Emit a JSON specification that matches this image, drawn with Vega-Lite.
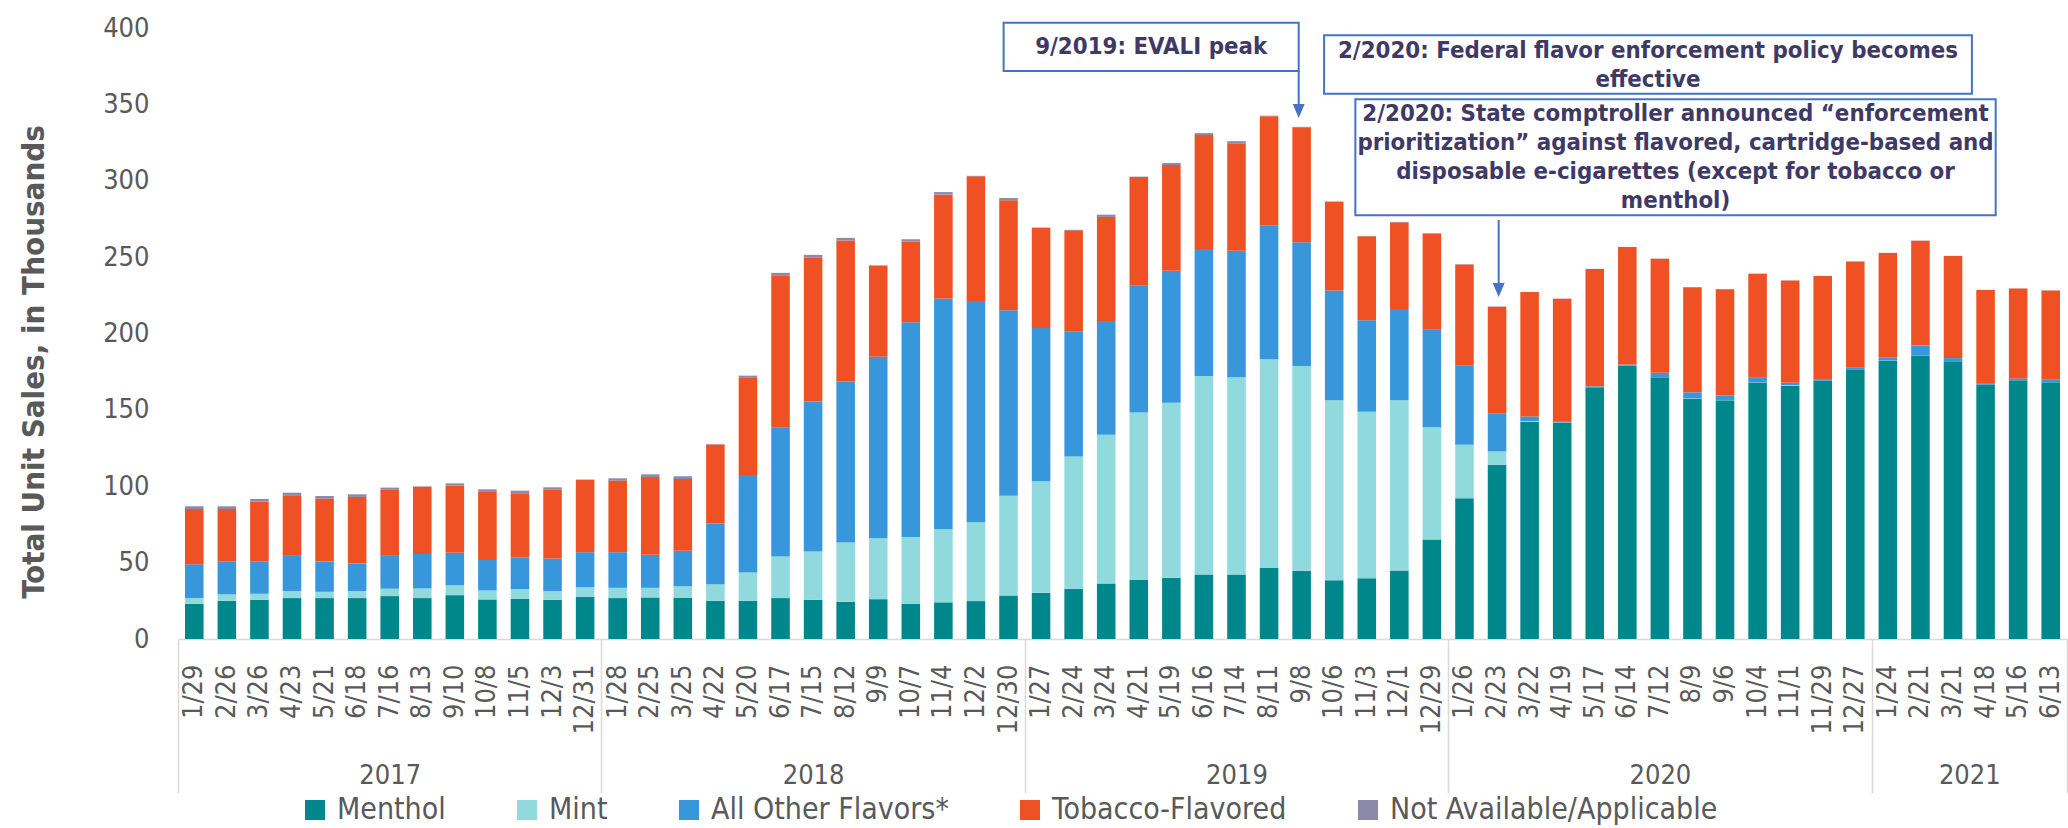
{
  "$schema": "https://vega.github.io/schema/vega-lite/v6.json",
  "width": 1889,
  "height": 611,
  "autosize": {"type": "none"},
  "padding": {"left": 178, "top": 28, "right": 1, "bottom": 189},
  "background": "white",
  "config": {
    "view": {"stroke": null},
    "font": "DejaVu Sans Condensed",
    "axis": {"grid": false, "labelFont": "DejaVu Sans Condensed", "titleFont": "DejaVu Sans Condensed"},
    "legend": {"labelFont": "DejaVu Sans Condensed"}
  },
  "layer": [
    {
      "data": {
        "values": [
          {"week": "1/29", "menthol": 23.1, "mint": 3.7, "other": 22.2, "tobacco": 36.1, "na": 1.8},
          {"week": "2/26", "menthol": 25.0, "mint": 4.2, "other": 21.3, "tobacco": 34.6, "na": 1.8},
          {"week": "3/26", "menthol": 25.7, "mint": 3.9, "other": 20.9, "tobacco": 39.4, "na": 1.8},
          {"week": "4/23", "menthol": 26.8, "mint": 4.6, "other": 23.5, "tobacco": 39.2, "na": 1.7},
          {"week": "5/21", "menthol": 26.8, "mint": 4.1, "other": 19.8, "tobacco": 41.2, "na": 1.7},
          {"week": "6/18", "menthol": 26.8, "mint": 4.6, "other": 18.0, "tobacco": 43.6, "na": 1.7},
          {"week": "7/16", "menthol": 28.1, "mint": 4.8, "other": 22.0, "tobacco": 42.7, "na": 1.5},
          {"week": "8/13", "menthol": 26.8, "mint": 6.3, "other": 22.6, "tobacco": 44.0, "na": 0.3},
          {"week": "9/10", "menthol": 28.7, "mint": 6.4, "other": 21.3, "tobacco": 44.0, "na": 1.5},
          {"week": "10/8", "menthol": 25.9, "mint": 5.9, "other": 20.0, "tobacco": 44.5, "na": 1.7},
          {"week": "11/5", "menthol": 26.3, "mint": 6.4, "other": 20.7, "tobacco": 42.0, "na": 1.7},
          {"week": "12/3", "menthol": 25.7, "mint": 5.7, "other": 21.3, "tobacco": 45.1, "na": 1.5},
          {"week": "12/31", "menthol": 27.6, "mint": 6.4, "other": 22.8, "tobacco": 47.3, "na": 0.3},
          {"week": "1/28", "menthol": 26.8, "mint": 6.7, "other": 23.3, "tobacco": 46.9, "na": 1.5},
          {"week": "2/25", "menthol": 27.2, "mint": 6.3, "other": 21.6, "tobacco": 51.0, "na": 1.7},
          {"week": "3/25", "menthol": 26.8, "mint": 7.8, "other": 23.1, "tobacco": 47.1, "na": 1.7},
          {"week": "4/22", "menthol": 25.0, "mint": 10.9, "other": 39.7, "tobacco": 51.8, "na": 0.3},
          {"week": "5/20", "menthol": 25.0, "mint": 18.5, "other": 63.8, "tobacco": 63.6, "na": 1.5},
          {"week": "6/17", "menthol": 26.8, "mint": 27.2, "other": 84.7, "tobacco": 99.5, "na": 1.5},
          {"week": "7/15", "menthol": 25.7, "mint": 31.6, "other": 98.2, "tobacco": 94.5, "na": 1.5},
          {"week": "8/12", "menthol": 24.4, "mint": 38.7, "other": 105.4, "tobacco": 92.4, "na": 1.7},
          {"week": "9/9", "menthol": 26.1, "mint": 39.9, "other": 118.8, "tobacco": 59.5, "na": 0.3},
          {"week": "10/7", "menthol": 23.1, "mint": 43.7, "other": 140.5, "tobacco": 52.9, "na": 1.5},
          {"week": "11/4", "menthol": 24.0, "mint": 47.8, "other": 151.1, "tobacco": 68.0, "na": 1.7},
          {"week": "12/2", "menthol": 24.8, "mint": 51.6, "other": 144.8, "tobacco": 81.7, "na": 0.3},
          {"week": "12/30", "menthol": 28.5, "mint": 65.3, "other": 121.5, "tobacco": 71.9, "na": 1.5},
          {"week": "1/27", "menthol": 30.2, "mint": 73.0, "other": 100.4, "tobacco": 65.5, "na": 0.3},
          {"week": "2/24", "menthol": 32.9, "mint": 86.6, "other": 81.7, "tobacco": 66.4, "na": 0.3},
          {"week": "3/24", "menthol": 36.4, "mint": 97.3, "other": 74.5, "tobacco": 68.1, "na": 1.5},
          {"week": "4/21", "menthol": 38.7, "mint": 109.6, "other": 82.9, "tobacco": 71.2, "na": 0.3},
          {"week": "5/19", "menthol": 40.1, "mint": 114.5, "other": 86.4, "tobacco": 69.3, "na": 1.3},
          {"week": "6/16", "menthol": 42.2, "mint": 130.0, "other": 83.2, "tobacco": 74.5, "na": 1.3},
          {"week": "7/14", "menthol": 42.2, "mint": 129.1, "other": 82.8, "tobacco": 70.1, "na": 1.7},
          {"week": "8/11", "menthol": 46.4, "mint": 136.7, "other": 87.8, "tobacco": 71.4, "na": 0.3},
          {"week": "9/8", "menthol": 44.6, "mint": 134.2, "other": 80.9, "tobacco": 75.4, "na": 0.2},
          {"week": "10/6", "menthol": 38.5, "mint": 117.8, "other": 71.9, "tobacco": 58.1, "na": 0.2},
          {"week": "11/3", "menthol": 39.8, "mint": 108.9, "other": 59.9, "tobacco": 55.1, "na": 0.2},
          {"week": "12/1", "menthol": 44.9, "mint": 111.4, "other": 59.7, "tobacco": 56.8, "na": 0.2},
          {"week": "12/29", "menthol": 65.1, "mint": 73.6, "other": 63.8, "tobacco": 62.9, "na": 0.2},
          {"week": "1/26", "menthol": 92.1, "mint": 35.1, "other": 52.0, "tobacco": 65.9, "na": 0.2},
          {"week": "2/23", "menthol": 114.1, "mint": 8.7, "other": 25.0, "tobacco": 69.7, "na": 0.2},
          {"week": "3/22", "menthol": 142.2, "mint": 0.5, "other": 3.0, "tobacco": 81.4, "na": 0.1},
          {"week": "4/19", "menthol": 141.7, "mint": 0.2, "other": 0.7, "tobacco": 80.1, "na": 0.1},
          {"week": "5/17", "menthol": 164.8, "mint": 0.1, "other": 0.5, "tobacco": 76.8, "na": 0.1},
          {"week": "6/14", "menthol": 179.0, "mint": 0.1, "other": 0.6, "tobacco": 76.9, "na": 0.1},
          {"week": "7/12", "menthol": 171.3, "mint": 0.1, "other": 2.9, "tobacco": 74.7, "na": 0.1},
          {"week": "8/9", "menthol": 157.2, "mint": 0.2, "other": 4.1, "tobacco": 68.8, "na": 0.1},
          {"week": "9/6", "menthol": 156.3, "mint": 0.2, "other": 2.9, "tobacco": 69.6, "na": 0.1},
          {"week": "10/4", "menthol": 167.7, "mint": 0.2, "other": 3.2, "tobacco": 68.0, "na": 0.1},
          {"week": "11/1", "menthol": 165.7, "mint": 0.4, "other": 1.6, "tobacco": 67.0, "na": 0.1},
          {"week": "11/29", "menthol": 168.9, "mint": 0.1, "other": 1.1, "tobacco": 67.5, "na": 0.1},
          {"week": "12/27", "menthol": 176.6, "mint": 0.1, "other": 0.9, "tobacco": 69.6, "na": 0.1},
          {"week": "1/24", "menthol": 182.2, "mint": 0.1, "other": 1.8, "tobacco": 68.6, "na": 0.1},
          {"week": "2/21", "menthol": 185.3, "mint": 0.1, "other": 6.7, "tobacco": 68.6, "na": 0.1},
          {"week": "3/21", "menthol": 181.8, "mint": 0.1, "other": 2.0, "tobacco": 66.8, "na": 0.1},
          {"week": "4/18", "menthol": 166.3, "mint": 0.1, "other": 1.1, "tobacco": 61.0, "na": 0.1},
          {"week": "5/16", "menthol": 169.4, "mint": 0.1, "other": 1.1, "tobacco": 58.8, "na": 0.1},
          {"week": "6/13", "menthol": 168.1, "mint": 0.1, "other": 1.5, "tobacco": 58.4, "na": 0.1}
        ]
      },
      "transform": [
        {"fold": ["menthol", "mint", "other", "tobacco", "na"], "as": ["flavor", "sales"]},
        {"calculate": "indexof(['menthol','mint','other','tobacco','na'], datum.flavor)", "as": "stackOrder"}
      ],
      "mark": {"type": "bar"},
      "encoding": {
        "x": {
          "field": "week",
          "type": "ordinal",
          "sort": null,
          "scale": {"paddingInner": 0.43, "paddingOuter": 0.215},
          "axis": {
            "title": null,
            "labelAngle": -90,
            "labelFontSize": 27,
            "labelColor": "#595959",
            "labelPadding": 25,
            "ticks": false,
            "tickSize": 0,
            "domainColor": "#d9d9d9",
            "domainWidth": 1.5,
            "labelOverlap": false
          }
        },
        "y": {
          "field": "sales",
          "type": "quantitative",
          "stack": "zero",
          "scale": {"domain": [0, 400], "nice": false},
          "axis": {
            "orient": "left",
            "values": [0, 50, 100, 150, 200, 250, 300, 350, 400],
            "title": "Total Unit Sales, in Thousands",
            "titleFontSize": 31,
            "titleFontWeight": "bold",
            "titleColor": "#595959",
            "titleX": -135,
            "titleY": 333.5,
            "titleBaseline": "alphabetic",
            "domain": false,
            "ticks": false,
            "tickSize": 0,
            "labelPadding": 29,
            "labelFontSize": 27,
            "labelColor": "#595959"
          }
        },
        "color": {
          "field": "flavor",
          "type": "nominal",
          "scale": {
            "domain": ["menthol", "mint", "other", "tobacco", "na"],
            "range": ["#00878B", "#90D9DD", "#3797DA", "#F05124", "#8D89AB"]
          },
          "legend": {
            "orient": "none",
            "legendX": 122,
            "legendY": 767,
            "direction": "horizontal",
            "title": null,
            "symbolType": "square",
            "symbolSize": 400,
            "symbolStrokeWidth": 0,
            "labelFontSize": 30,
            "labelColor": "#595959",
            "labelOffset": 7,
            "columnPadding": 66,
            "labelLimit": 1000,
            "padding": 0,
            "labelExpr": "{'menthol': 'Menthol', 'mint': 'Mint', 'other': 'All Other Flavors*', 'tobacco': 'Tobacco-Flavored', 'na': 'Not Available/Applicable'}[datum.label]"
          }
        },
        "order": {"field": "stackOrder", "type": "quantitative"}
      }
    },
    {
      "data": {
        "values": [
          {"x1": 25.35, "x2": 34.41, "y1": 403.5, "y2": 371.8},
          {"x1": 35.19, "x2": 55.08, "y1": 395.2, "y2": 356.9},
          {"x1": 36.15, "x2": 55.81, "y1": 353.3, "y2": 277.4}
        ]
      },
      "mark": {"type": "rect", "fill": "white", "stroke": "#4472C4", "strokeWidth": 2},
      "encoding": {
        "x": {
          "field": "x1",
          "type": "quantitative",
          "scale": {"domain": [0, 58], "nice": false, "zero": false},
          "axis": {
            "orient": "bottom",
            "values": [0, 13, 26, 39, 52, 58],
            "labels": false,
            "domain": false,
            "ticks": true,
            "tickSize": 154,
            "tickColor": "#d9d9d9",
            "tickWidth": 1.5,
            "title": null,
            "grid": false
          }
        },
        "x2": {"field": "x2"},
        "y": {"field": "y1", "type": "quantitative", "scale": {"domain": [0, 400], "nice": false}, "axis": null},
        "y2": {"field": "y2"}
      }
    },
    {
      "data": {
        "values": [
          {"x": 29.88, "y": 387.3, "label": "9/2019: EVALI peak"},
          {"x": 45.135, "y": 385.0, "label": "2/2020: Federal flavor enforcement policy becomes\neffective"},
          {"x": 45.98, "y": 343.7, "label": "2/2020: State comptroller announced “enforcement\nprioritization” against flavored, cartridge-based and\ndisposable e-cigarettes (except for tobacco or\nmenthol)"}
        ]
      },
      "mark": {
        "type": "text",
        "font": "DejaVu Sans Condensed",
        "fontWeight": "bold",
        "fontSize": 23.8,
        "color": "#3F3966",
        "lineBreak": "\n",
        "lineHeight": 29,
        "align": "center",
        "baseline": "middle"
      },
      "encoding": {
        "x": {
          "field": "x",
          "type": "quantitative",
          "scale": {"domain": [0, 58], "nice": false, "zero": false},
          "axis": {
            "orient": "bottom",
            "values": [6.5, 19.5, 32.5, 45.5, 55],
            "labelExpr": "datum.value < 13 ? '2017' : datum.value < 26 ? '2018' : datum.value < 39 ? '2019' : datum.value < 52 ? '2020' : '2021'",
            "ticks": false,
            "tickSize": 0,
            "domain": false,
            "labelPadding": 136,
            "labelBaseline": "middle",
            "labelFontSize": 27,
            "labelColor": "#595959",
            "labelAngle": 0,
            "labelFlush": false,
            "labelOverlap": false,
            "title": null,
            "grid": false
          }
        },
        "y": {"field": "y", "type": "quantitative", "scale": {"domain": [0, 400], "nice": false}, "axis": null},
        "text": {"field": "label"}
      }
    },
    {
      "data": {
        "values": [
          {"x": 34.41, "y1": 371.8, "y2": 345.6},
          {"x": 40.55, "y1": 274.3, "y2": 228.5}
        ]
      },
      "mark": {"type": "rule", "color": "#4472C4", "strokeWidth": 2},
      "encoding": {
        "x": {"field": "x", "type": "quantitative", "scale": {"domain": [0, 58], "nice": false, "zero": false}, "axis": null},
        "y": {"field": "y1", "type": "quantitative", "scale": {"domain": [0, 400], "nice": false}, "axis": null},
        "y2": {"field": "y2"}
      }
    },
    {
      "data": {
        "values": [
          {"x": 34.41, "y": 345.6},
          {"x": 40.55, "y": 228.5}
        ]
      },
      "mark": {"type": "point", "shape": "M-0.85,-1L0.85,-1L0,1Z", "size": 196, "filled": true, "color": "#4472C4", "opacity": 1, "strokeWidth": 0},
      "encoding": {
        "x": {"field": "x", "type": "quantitative", "scale": {"domain": [0, 58], "nice": false, "zero": false}, "axis": null},
        "y": {"field": "y", "type": "quantitative", "scale": {"domain": [0, 400], "nice": false}, "axis": null}
      }
    }
  ],
  "resolve": {"scale": {"x": "independent"}, "axis": {"x": "independent", "y": "independent"}}
}
